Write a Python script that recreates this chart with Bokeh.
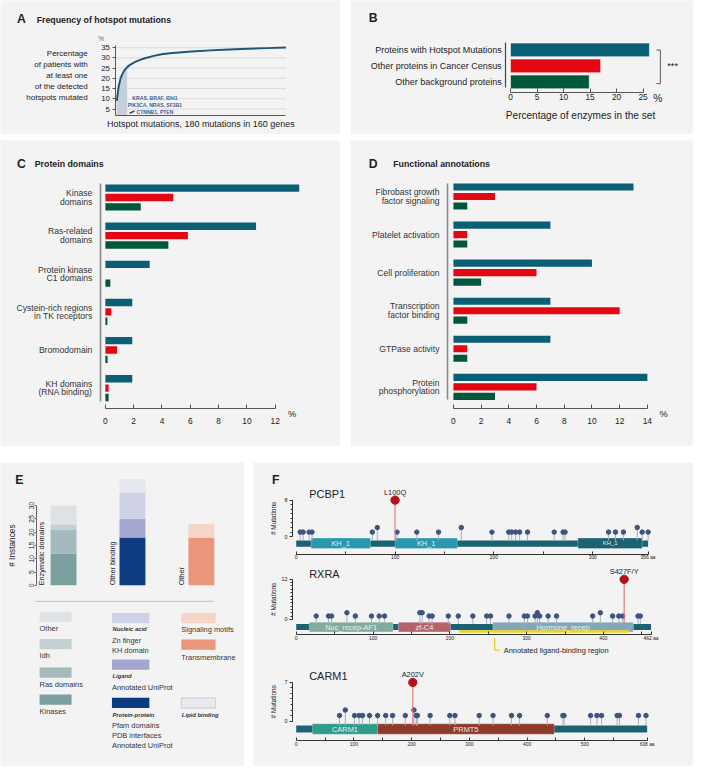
import math
from bokeh.plotting import figure
from bokeh.models import Range1d, LinearAxis, FixedTicker, Label, Spacer
from bokeh.layouts import row, column
from bokeh.embed import file_html
from bokeh.resources import INLINE

# ---------------- data ----------------
# A: cumulative share of patients vs. number of hotspot mutations
A_mutations = [1, 2, 3, 5, 7, 9, 12, 15, 20, 25, 30, 40, 50, 60, 70, 80, 100, 120, 140, 160, 180]
A_percent = [9.0, 12.5, 16.0, 20.0, 22.2, 23.9, 25.5, 26.6, 27.9, 28.9, 29.7, 31.0, 31.9, 32.4,
             32.8, 33.1, 33.7, 34.1, 34.5, 34.8, 35.1]
A_top_hotspots = 12
A_top_genes = ["KRAS, BRAF, IDH1", "PIK3CA, NRAS, SF3B1", "CTNNB1, PTEN"]
A_yticks = [5, 10, 15, 20, 25, 30, 35]
A_ylabel = ["Percentage", "of patients with", "at least one", "of the detected", "hotspots mutated"]
A_xlabel = "Hotspot mutations, 180 mutations in 160 genes"

# B: percentage of enzymes
B_sets = ["Proteins with Hotspot Mutations", "Other proteins in Cancer Census", "Other background proteins"]
B_enzymes = [26.2, 17.0, 14.85]
B_xticks = [0, 5, 10, 15, 20, 25]
B_xlabel = "Percentage of enzymes in the set"

# C: protein domains (% of proteins)
C_domains = ["Kinase\ndomains", "Ras-related\ndomains", "Protein kinase\nC1 domains",
             "Cystein-rich regions\nin TK receptors", "Bromodomain", "KH domains\n(RNA binding)"]
C_hotspot = [13.7, 10.65, 3.13, 1.9, 1.9, 1.9]
C_census = [4.8, 5.83, 0.0, 0.42, 0.83, 0.23]
C_background = [2.5, 4.45, 0.35, 0.14, 0.16, 0.23]
C_xticks = [0, 2, 4, 6, 8, 10, 12]

# D: functional annotations (%)
D_terms = ["Fibrobast growth\nfactor signaling", "Platelet activation", "Cell proliferation",
           "Transcription\nfactor binding", "GTPase activity", "Protein\nphosphorylation"]
D_hotspot = [13, 7, 10, 7, 7, 14]
D_census = [3, 1, 6, 12, 1, 6]
D_background = [1, 1, 2, 1, 1, 3]
D_xticks = [0, 2, 4, 6, 8, 10, 12, 14]

# E: stacked instances
E_groups = ["Enzymatic domains", "Other binding", "Other"]
E_parts = [["Kinases", "Ras domains", "Idh", "Other"],
           ["Protein-protein", "Ligand", "Nucleic acid", "Lipid binding"],
           ["Transmembrane", "Signaling motifs"]]
E_counts = [[12, 9, 2, 7], [18, 7, 10, 5], [18, 5]]
E_sources = [["Pfam domains", "PDB interfaces", "Annotated UniProt"], ["Annotated UniProt"],
             ["Zn finger", "KH domain"], []]
E_yticks = [0, 5, 10, 15, 20, 25, 30]

# F: lollipop plots
PCBP1_len = 356
PCBP1_domains = [("KH_1", 15, 75), ("KH_1", 100, 163), ("KH_1", 285, 350)]
PCBP1_pos = [4, 7, 13, 16, 77, 82, 102, 122, 144, 167, 198, 215, 218, 222, 226, 234, 261, 270, 272,
             316, 323, 331, 345, 350, 356]
PCBP1_cnt = [1, 1, 1, 1, 1, 2, 1, 1, 1, 2, 1, 1, 1, 1, 1, 1, 1, 1, 1, 1, 1, 1, 2, 1, 1]
PCBP1_hot = (100, 8, "L100Q")
PCBP1_ymax = 8

RXRA_len = 462
RXRA_domains = [("Nuc_recep-AF1", 17, 126), ("zf-C4", 133, 201), ("Hormone_recep", 256, 439)]
RXRA_ligand_region = (212, 433)
RXRA_pos = [26, 42, 46, 66, 77, 98, 108, 115, 161, 164, 173, 177, 198, 211, 230, 248, 253, 277, 297,
            301, 311, 314, 317, 328, 339, 386, 396, 412, 420, 425, 445, 448]
RXRA_cnt = [1, 1, 1, 2, 1, 1, 1, 1, 2, 2, 1, 1, 1, 1, 1, 1, 1, 1, 1, 1, 1, 2, 1, 1, 1, 1, 2, 1, 1, 1, 1, 1]
RXRA_hot = (427, 12, "S427F/Y")
RXRA_ymax = 12

CARM1_len = 608
CARM1_domains = [("CARM1", 28, 141), ("PRMT5", 141, 447)]
CARM1_pos = [75, 85, 101, 109, 115, 127, 141, 155, 167, 189, 204, 208, 210, 232, 266, 275, 317, 341,
             373, 387, 435, 462, 464, 510, 521, 529, 556, 560, 593, 606]
CARM1_cnt = [1, 2, 1, 1, 1, 1, 1, 1, 1, 1, 2, 1, 1, 1, 1, 1, 1, 1, 1, 1, 1, 1, 1, 1, 1, 1, 1, 1, 1, 1]
CARM1_hot = (202, 7, "A202V")
CARM1_ymax = 7

# ---------------- style ----------------
S = 0.9775
FONT = "Liberation Sans"
BG = "#f4f3f4"
INK = "#222222"
TEAL, RED, GREEN = "#0b5f74", "#e30613", "#00573b"
E_colors = [["#7c9fa0", "#a4babc", "#c5d0d3", "#dde3e5"],
            ["#0d3b7f", "#a3a6cf", "#cfd1e6", "#e8e8f1"],
            ["#ea967b", "#f6d4c6"]]
BACKBONE = "#1a6274"


def fpx(v):
    return f"{v * S:.2f}px"


def lin(v1, p1, v2, p2):
    k = (v2 - v1) / (p2 - p1)
    return (lambda p: v1 + (p - p1) * k), k


class View:
    """Data scale tied to panel-relative reference pixels by two calibration points per axis."""

    def __init__(self, p, xcal, ycal, name=None):
        self.p = p
        self.fx, self.kx = lin(*xcal)
        self.fy, self.ky = lin(*ycal)
        self.kw = {} if name is None else {"x_range_name": name, "y_range_name": name}
        w, h = p.width / S, p.height / S
        self.xr = Range1d(self.fx(0), self.fx(w))
        self.yr = Range1d(self.fy(h), self.fy(0))
        if name is not None:
            p.extra_x_ranges = {**p.extra_x_ranges, name: self.xr}
            p.extra_y_ranges = {**p.extra_y_ranges, name: self.yr}

    def dx(self, d):
        return abs(d * self.kx)

    def dy(self, d):
        return abs(d * self.ky)

    def label(self, xd, yd, s, size, align="left", style="normal", color=INK, angle=0.0):
        self.p.add_layout(Label(x=xd, y=yd, text=s, text_font=FONT, text_font_size=fpx(size),
                                text_font_style=style, text_color=color, text_align=align,
                                text_baseline="middle", angle=angle, **self.kw))

    def text(self, x, y, s, size, align="left", style="normal", color=INK, angle=0.0):
        self.label(self.fx(x), self.fy(y), s, size, align, style, color, angle)

    def seg(self, xa, ya, xb, yb, color, width=1.0):
        self.p.segment(x0=[self.fx(xa)], y0=[self.fy(ya)], x1=[self.fx(xb)], y1=[self.fy(yb)],
                       line_color=color, line_width=width * S, **self.kw)


def panel(W, H, xcal, ycal, w=None, h=None):
    w = w if w is not None else round(W * S)
    h = h if h is not None else round(H * S)
    p = figure(width=w, height=h, title=None,
               min_border=0, min_border_left=0, min_border_right=0,
               min_border_top=0, min_border_bottom=0,
               x_axis_location=None, y_axis_location=None, toolbar_location=None,
               output_backend="svg", background_fill_color=BG, border_fill_color=BG,
               outline_line_color=None)
    p.grid.visible = False
    v = View(p, xcal, ycal)
    p.x_range = v.xr
    p.y_range = v.yr
    return v


def axis(v, side, at, ticks, bounds=None, overrides=None, font=8, standoff=3, tick_in=0,
         tick_out=0, minor=None, minor_out=0, color="#444", width=1.0, orientation="horizontal"):
    ax = LinearAxis(ticker=FixedTicker(ticks=list(ticks), minor_ticks=list(minor or [])), **v.kw)
    ax.fixed_location = v.fx(at) if side in ("left", "right") else v.fy(at)
    if bounds is not None:
        ax.bounds = (min(bounds), max(bounds))
    if overrides:
        ax.major_label_overrides = overrides
    ax.major_label_text_font = FONT
    ax.major_label_text_font_size = fpx(font)
    ax.major_label_text_color = INK
    ax.major_label_standoff = round(standoff * S)
    ax.major_label_orientation = orientation
    ax.major_tick_in = round(tick_in * S)
    ax.major_tick_out = round(tick_out * S)
    ax.minor_tick_in = 0
    ax.minor_tick_out = round(minor_out * S)
    ax.axis_line_color = color
    ax.axis_line_width = width
    ax.major_tick_line_color = color
    ax.minor_tick_line_color = color
    v.p.add_layout(ax, side)
    return ax


# ---------------- panel A ----------------
A = panel(348, 137, (0, 118, 180, 292), (5, 111, 35, 48.3))
pa = A.p
pa.segment(x0=[0] * len(A_yticks), y0=A_yticks, x1=[A_mutations[-1]] * len(A_yticks), y1=A_yticks,
           line_color="#d4d4d4", line_width=0.8)
axis(A, "left", 118, A_yticks, bounds=(A.fy(118), A.fy(46)), font=8, standoff=3, tick_out=3,
     color="#555")
axis(A, "below", 118, [], bounds=(0, 180), color="#555", width=1.2)
sx = [m for m in A_mutations if m <= A_top_hotspots]
sy = A_percent[:len(sx)]
pa.varea(x=sx, y1=[A.fy(118)] * len(sx), y2=sy, fill_color="#c5d0d9")
pa.line(A_mutations, A_percent, line_color="#1d5677", line_width=2 * S)
A.seg(132, 115.5, 137, 113, "#2b4570", 1.6)
for i, g in enumerate(A_top_genes):
    A.text(158, 99.3 + i * 7.2, g, 5.2, align="center", style="bold", color="#3d5d94")
A.text(17, 19, "A", 12.5, style="bold")
A.text(37, 19.5, "Frequency of hotspot mutations", 9, style="bold")
for i, line in enumerate(A_ylabel):
    A.text(89.3, 54.3 + i * 11.2, line, 8.2, align="right")
A.text(103, 39, "%", 6.5, align="center", color="#666")
A.text(205, 126.7, A_xlabel, 9.2, align="center")

# ---------------- panel B ----------------
B = panel(351, 137, (0, 163.7, 25, 299.3), (0, 50.5, 2, 83.3))
pb = B.p
bidx = list(range(len(B_sets)))
pb.hbar(y=bidx, left=0, right=B_enzymes, height=B.dy(14), fill_color=[TEAL, RED, GREEN],
        line_color="white", line_alpha=0.55, line_width=1)
axis(B, "left", 158.7, bidx, bounds=(B.fy(43), B.fy(89.3)),
     overrides={i: s for i, s in enumerate(B_sets)}, font=9.2, standoff=4, color="#444", width=1.2)
axis(B, "below", 94, B_xticks, bounds=(0, 25), font=8.5, standoff=2, tick_in=4, color="#555")
B.seg(317, 50.7, 317, 85, "#555", 1)
B.seg(313, 50.7, 317, 50.7, "#555", 1)
B.seg(313, 85, 317, 85, "#555", 1)
B.text(329.5, 67, "***", 9.5, align="center")
B.text(314.3, 100.7, "%", 10.5, align="center")
B.text(235.3, 117.3, B_xlabel, 10.3, align="center")
B.text(18.7, 18.3, "B", 12.5, style="bold")


# ---------------- panels C and D ----------------
def grouped(v, cats, series, off_px, h_px, label_right, font):
    n = len(cats)
    for k, (vals, col) in enumerate(zip(series, [TEAL, RED, GREEN])):
        ys = [g + (k - 1) * v.dy(off_px) for g in range(n)]
        v.p.hbar(y=ys, left=0, right=vals, height=v.dy(h_px), fill_color=col, line_color=None)
    for g, name in enumerate(cats):
        lines = name.split("\n")
        m = len(lines)
        for j, ln in enumerate(lines):
            yd = g + (j - (m - 1) / 2) * v.dy(8.6)
            v.label(v.fx(label_right), yd, ln, font, align="right", color="#333")


C = panel(348, 313, (0, 107.3, 12, 281), (0, 58.3, 5, 253.3))
grouped(C, C_domains, [C_hotspot, C_census, C_background], 9.6, 7.5, 94, 8.8)
axis(C, "left", 102, [], bounds=(C.fy(43.7), C.fy(267)), color="#8a8a8a", width=1.6)
axis(C, "below", 274.3, C_xticks, bounds=(0, 12), font=8.6, standoff=9, tick_in=4, color="#555")
C.text(298.3, 279.7, "%", 9.5, align="center")
C.text(17, 23.7, "C", 12.5, style="bold")
C.text(35, 24, "Protein domains", 9, style="bold")

D = panel(351, 313, (0, 105.3, 14, 303.7), (0, 57.3, 5, 252))
grouped(D, D_terms, [D_hotspot, D_census, D_background], 9.7, 7.3, 91, 8.8)
axis(D, "left", 99, [], bounds=(D.fy(43.7), D.fy(265.3)), color="#8a8a8a", width=1.6)
axis(D, "below", 274.3, D_xticks, bounds=(0, 14), font=8.6, standoff=9, tick_in=4, color="#555")
D.text(320.3, 279.7, "%", 9.5, align="center")
D.text(18.7, 23.7, "D", 12.5, style="bold")
D.text(43.7, 24, "Functional annotations", 9, style="bold")

# ---------------- panel E ----------------
E = panel(250, 311, (0, 64.5, 2, 205.5), (0, 125.7, 30, 44), h=304)
pe = E.p
bx, bb, bt, bc = [], [], [], []
for gi, counts in enumerate(E_counts):
    base = 0
    for pi, c in enumerate(counts):
        bx.append(gi)
        bb.append(base)
        bt.append(base + c)
        bc.append(E_colors[gi][pi])
        base += c
pe.vbar(x=bx, bottom=bb, top=bt, width=E.dx(26.5), fill_color=bc, line_color=None)
axis(E, "left", 37, E_yticks, bounds=(0, 30), font=7, standoff=1, tick_out=2, color="#666",
     orientation="parallel")
E.text(12, 85, "# Instances", 8.5, align="center", angle=math.pi / 2)
for gi, name in enumerate(E_groups):
    xg = [42, 115, 185.5][gi]
    E.text(xg, 125.7, name, 7.5, angle=math.pi / 2)
E.seg(36, 142, 218, 142, "#bdbdbd", 1)
E.text(15, 18, "E", 12.5, style="bold")

legend_cols = [(40, 32.7), (114, 38.3), (185, 35)]
legend_entries = [  # column, group, part, swatch centre y, label y, label style
    (0, 0, 3, 158, 170.3, "normal"), (0, 0, 2, 185.7, 197.3, "normal"),
    (0, 0, 1, 215, 227, "normal"), (0, 0, 0, 242.7, 254.7, "normal"),
    (1, 1, 2, 159.2, 170.7, "bold italic"), (1, 1, 1, 206.7, 218.7, "bold italic"),
    (1, 1, 0, 246, 258, "bold italic"),
    (2, 2, 1, 159.2, 171.3, "normal"), (2, 2, 0, 186.3, 199.7, "normal"),
    (2, 1, 3, 246, 258, "bold italic"),
]
for col, gi, pi, cy, ly, style in legend_entries:
    x0, w = legend_cols[col]
    border = "#c6c6d6" if (gi == 1 and pi == 3) else None
    pe.rect(x=[E.fx(x0 + w / 2)], y=[E.fy(cy)], width=E.dx(w), height=E.dy(10.5),
            fill_color=E_colors[gi][pi], line_color=border, line_width=0.8)
    name = E_parts[gi][pi]
    if style == "normal":
        E.text(x0, ly, name, 7.6, color="#333")
    else:
        E.text(x0 + 0.5, ly, name, 6.0, style="bold italic", color="#333")
        for k, src in enumerate(E_sources[pi] if gi == 1 else []):
            E.text(x0, ly + 10.4 * (k + 1) + 0.6, src, 7.6, color="#333")

# ---------------- panel F (one figure, one pair of ranges per protein) ----------------
F = panel(450, 311, (0, 0, 1, 1), (0, 0, 1, 1), h=304)
F.text(19, 18, "F", 12.5, style="bold")


def protein(name, off, ycal, length, px_end, domains, dom_colors, pos, cnt, hot, ymax,
            axis_y, bar_px, dom_px, title_y, hot_y):
    v = View(F.p, (0, 43.7, length, px_end), (ycal[0], ycal[1] + off, ycal[2], ycal[3] + off), name)
    p = v.p
    Y = lambda py: v.fy(py + off)
    bar_c = Y((bar_px[0] + bar_px[1]) / 2)
    dom_c = Y((dom_px[0] + dom_px[1]) / 2)
    bar_top = Y(bar_px[0])
    p.hbar(y=[bar_c], left=[0], right=[length], height=v.dy(bar_px[1] - bar_px[0]),
           fill_color=BACKBONE, line_color=None, **v.kw)
    p.hbar(y=[dom_c] * len(domains), left=[d[1] for d in domains], right=[d[2] for d in domains],
           height=v.dy(dom_px[1] - dom_px[0]), fill_color=dom_colors, line_color="white",
           line_alpha=0.35, line_width=0.8, **v.kw)
    for (dname, a, b), c in zip(domains, dom_colors):
        v.label((a + b) / 2, dom_c, dname, 6.0 if c == BACKBONE else 7.6, align="center",
                color="#e6f1f2")
    p.segment(x0=pos, y0=[bar_top] * len(pos), x1=pos, y1=cnt, line_color="#aab0bb", line_width=1,
              **v.kw)
    p.scatter(x=pos, y=cnt, size=4.6 * S, fill_color="#3d557e", line_color="#3d557e", **v.kw)
    hp, hc, hl = hot
    p.segment(x0=[hp], y0=[bar_top], x1=[hp], y1=[hc], line_color="#df7474", line_width=1.1, **v.kw)
    p.scatter(x=[hp], y=[hc], size=8.5 * S, fill_color="#b3121b", line_color="#b3121b", **v.kw)
    v.label(hp, Y(hot_y), hl, 7.6, align="center")
    v.text(57, title_y + off, name, 11.2)
    axis(v, "left", 40, [0, ymax], bounds=(0, ymax), minor=range(ymax + 1), font=5.6, standoff=2,
         tick_out=3.5, minor_out=2, color="#333")
    v.label(v.fx(20), ymax / 2, "# Mutations", 6.6, align="center", angle=math.pi / 2)
    ticks = [t for t in range(0, length, 50) if length - t > 10] + [length]
    over = {t: (str(t) if t % 100 == 0 else "") for t in ticks}
    over[length] = f"{length} aa"
    axis(v, "below", axis_y + off, ticks, bounds=(0, length), overrides=over, font=5.0, standoff=1,
         tick_in=3, color="#333")
    return v, Y


protein("PCBP1", 0, (0, 75.9, 8, 38.5), PCBP1_len, 403.7, PCBP1_domains,
        ["#2a98ae", "#2a98ae", BACKBONE], PCBP1_pos, PCBP1_cnt, PCBP1_hot, PCBP1_ymax,
        94, (79.7, 86.3), (77.3, 88), 32, 30.3)

R, RY = protein("RXRA", 105, (0, 55.5, 12, 14.5), RXRA_len, 406.7, RXRA_domains,
                ["#82ab9d", "#b5636b", "#84a8ba"], RXRA_pos, RXRA_cnt, RXRA_hot, RXRA_ymax,
                71.3, (60.3, 66.3), (58.3, 68.3), 9, 7)
R.p.hbar(y=[RY(67.7)], left=[RXRA_ligand_region[0]], right=[RXRA_ligand_region[1]],
         height=R.dy(2.8), fill_color="#e3d43c", line_color=None, **R.kw)
F.seg(246.7, 105 + 74.7, 246.7, 105 + 87, "#e3cf2a", 1.4)
F.seg(246.7, 105 + 87, 251.7, 105 + 87, "#e3cf2a", 1.4)
F.text(256, 105 + 87.3, "Annotated ligand-binding region", 7.6)

protein("CARM1", 200, (0, 64.5, 7, 25), CARM1_len, 402.7, CARM1_domains,
        ["#2e9c89", "#8e3b2b"], CARM1_pos, CARM1_cnt, CARM1_hot, CARM1_ymax,
        84.7, (69, 76.3), (67.3, 78), 18.7, 17.3)

# ---------------- layout ----------------
top = row(A.p, Spacer(width=10), B.p)
mid = row(C.p, Spacer(width=10), D.p)
bot = row(E.p, Spacer(width=9), F.p)
layout = column(top, Spacer(height=6), mid, Spacer(height=16), bot)

open("out.html", "w").write(file_html(layout, INLINE, title="Hotspot mutations"))
